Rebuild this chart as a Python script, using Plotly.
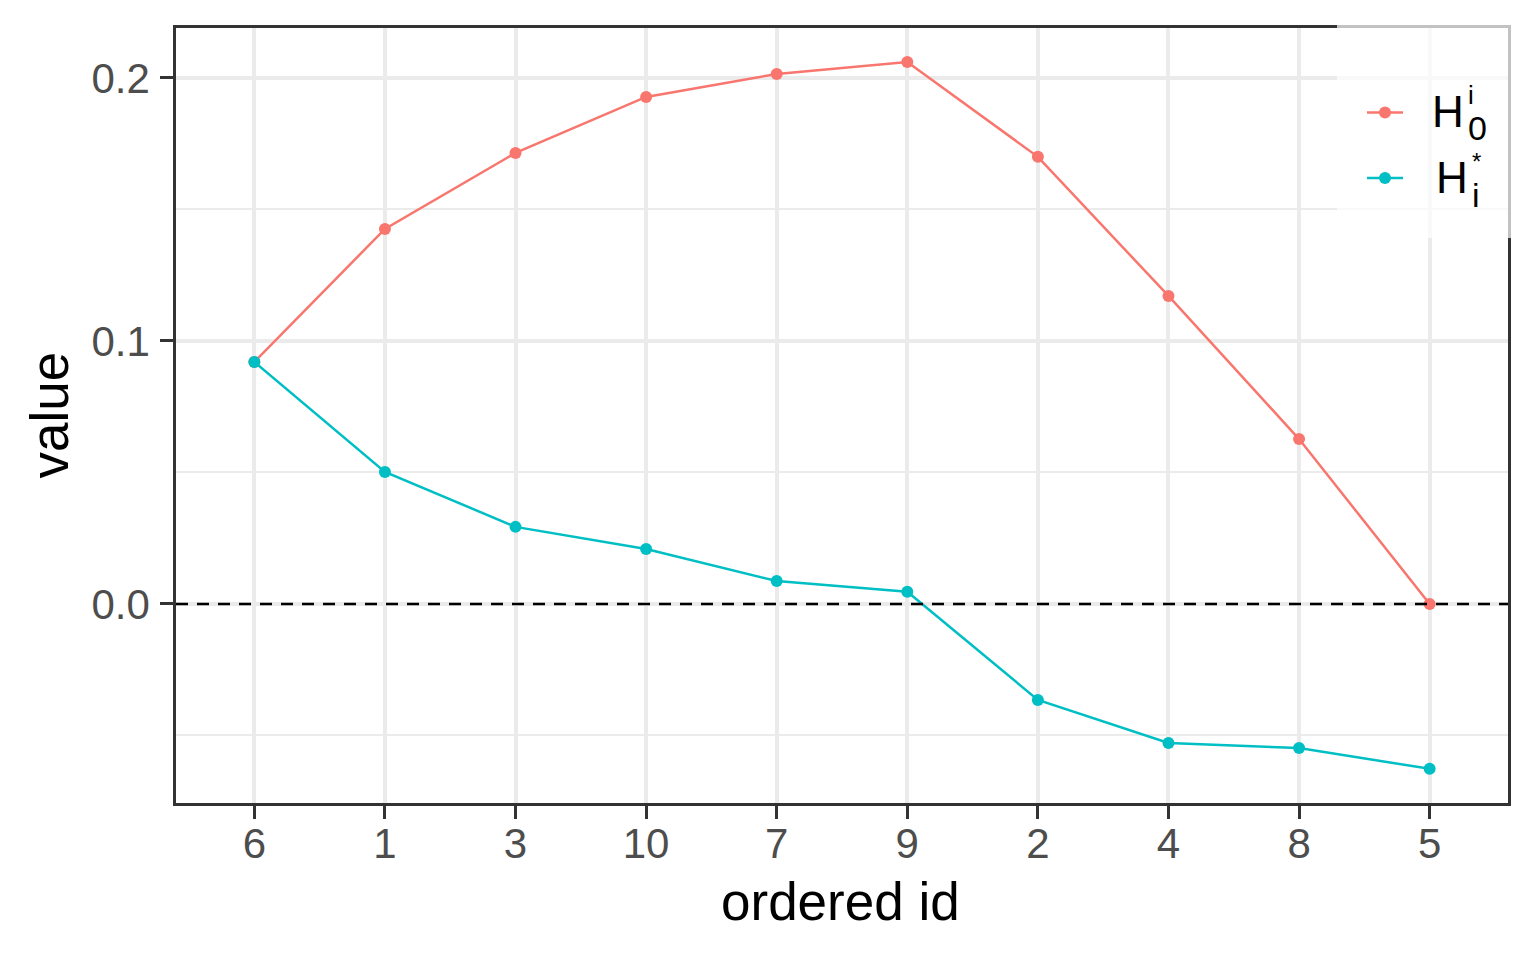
import plotly.graph_objects as go

# ordered ids on the x axis
ordered_id = ["6", "1", "3", "10", "7", "9", "2", "4", "8", "5"]
h0_vals = [0.0920, 0.1426, 0.1715, 0.1928, 0.2015, 0.2061, 0.1700, 0.1171, 0.0627, 0.0]
hstar_vals = [0.0920, 0.0502, 0.0293, 0.0209, 0.0087, 0.0046, -0.0365, -0.0529, -0.0548, -0.0627]

RED = "#F8766D"
CYAN = "#00BFC4"
FONT = "Liberation Sans, Arial, sans-serif"

# page has an 8px body margin, so the figure is 8px smaller than the window
W, H = 1528, 952
L, R, T, B = 168, 28, 20, 157
# plot area in window pixels
X0, X1, Y0, Y1 = 176, 1508, 28, 803


def px(x):
    return (x - X0) / (X1 - X0)


def py(y):
    return (Y1 - y) / (Y1 - Y0)


fig = go.Figure()
fig.add_trace(go.Scatter(x=ordered_id, y=h0_vals, mode="lines+markers", name="H0",
                         line=dict(color=RED, width=2.5), marker=dict(color=RED, size=12),
                         showlegend=False))
fig.add_trace(go.Scatter(x=ordered_id, y=hstar_vals, mode="lines+markers", name="H*",
                         line=dict(color=CYAN, width=2.5), marker=dict(color=CYAN, size=12),
                         showlegend=False))

# dashed reference line at zero
fig.add_shape(type="line", xref="paper", x0=0, x1=1, yref="y", y0=0, y1=0,
              line=dict(color="black", width=2.5, dash="12px,9px"), layer="above")

# legend drawn by hand so the stacked sub/superscripts can be placed
fig.add_shape(type="rect", xref="paper", yref="paper", x0=px(1337), x1=px(1512),
              y0=py(238), y1=py(24), fillcolor="rgba(255,255,255,0.7)",
              line=dict(width=0), layer="above")
for yy, col in [(112.5, RED), (178, CYAN)]:
    fig.add_shape(type="line", xref="paper", yref="paper", x0=px(1367), x1=px(1403),
                  y0=py(yy), y1=py(yy), line=dict(color=col, width=2.5), layer="above")
    fig.add_shape(type="circle", xref="paper", yref="paper", xsizemode="pixel",
                  ysizemode="pixel", xanchor=px(1385), yanchor=py(yy),
                  x0=-6, x1=6, y0=-6, y1=6, fillcolor=col,
                  line=dict(width=0), layer="above")

# (text, x, y, xanchor, font size)
leg_text = [
    ("H", 1464, 111.8, "right", 44),
    ("i", 1468, 95.0, "left", 26),
    ("0", 1468, 128.2, "left", 34),
    ("H", 1468, 177.8, "right", 44),
    ("*", 1472, 161.7, "left", 24),
    ("i", 1472, 195.2, "left", 34),
]
for txt, xx, yy, xa, fs in leg_text:
    fig.add_annotation(text=txt, xref="paper", yref="paper", x=px(xx), y=py(yy),
                       xanchor=xa, yanchor="middle", showarrow=False,
                       borderpad=0, borderwidth=0,
                       font=dict(family=FONT, size=fs, color="black"))

fig.add_annotation(text="ordered id", xref="paper", yref="paper", x=px(840.5), y=py(901.6),
                   xanchor="center", yanchor="middle", showarrow=False,
                   font=dict(family=FONT, size=53, color="black"))
fig.add_annotation(text="value", xref="paper", yref="paper", x=px(48.6), y=py(415),
                   xanchor="center", yanchor="middle", showarrow=False, textangle=-90,
                   font=dict(family=FONT, size=53, color="black"))

fig.update_xaxes(type="category", range=[-0.6, 9.6], showgrid=True, gridcolor="#EBEBEB",
                 gridwidth=3.5, ticks="outside", ticklen=13, tickwidth=2.5,
                 tickcolor="#333333", showline=True, linecolor="#333333", linewidth=2.5,
                 mirror=True, zeroline=False, ticklabelstandoff=-11,
                 tickfont=dict(family=FONT, size=42, color="#4D4D4D"))
fig.update_yaxes(range=[-0.0757, 0.2190], tickvals=[0.0, 0.1, 0.2],
                 ticktext=["0.0", "0.1", "0.2"], showgrid=True, gridcolor="#EBEBEB",
                 gridwidth=3.5, minor=dict(tickvals=[-0.05, 0.05, 0.15], showgrid=True,
                                           gridcolor="#EBEBEB", gridwidth=2),
                 ticks="outside", ticklen=13, tickwidth=2.5, tickcolor="#333333",
                 showline=True, linecolor="#333333", linewidth=2.5, mirror=True,
                 zeroline=False, ticklabelstandoff=2,
                 tickfont=dict(family=FONT, size=42, color="#4D4D4D"))

fig.update_layout(width=W, height=H, margin=dict(l=L, r=R, t=T, b=B),
                  plot_bgcolor="white", paper_bgcolor="white", showlegend=False)

fig.write_html("out.html")
